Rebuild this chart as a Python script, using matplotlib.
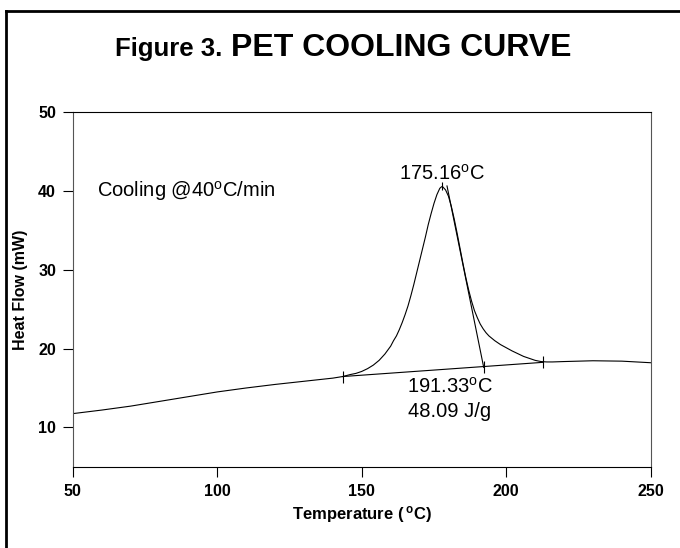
import numpy as np
import matplotlib.pyplot as plt
from matplotlib.lines import Line2D

# DSC cooling scan
temp = [50, 60, 70, 80, 90, 100, 110, 120, 130, 140, 143.4, 146, 148, 150, 152,
        154, 156, 158, 160, 161, 162, 163, 164, 165, 166, 167, 168, 169, 170, 171,
        172, 173, 174, 175, 176, 177, 177.6, 178, 179, 180, 181, 182, 183, 184, 185,
        186, 187, 188, 189, 190, 191, 192, 193, 194, 195, 196, 198, 200, 202, 204,
        206, 208, 210, 212, 214, 216, 220, 230, 240, 250]
heat_flow = [11.75, 12.2, 12.7, 13.3, 13.9, 14.5, 15.0, 15.45, 15.85, 16.25, 16.45,
             16.7, 16.85, 17.1, 17.45, 17.9, 18.5, 19.3, 20.3, 21.0, 21.6, 22.4, 23.3,
             24.3, 25.4, 26.7, 28.1, 29.6, 31.1, 32.6, 34.1, 35.7, 37.1, 38.4, 39.5,
             40.3, 40.5, 40.5, 40.1, 39.3, 38.0, 36.4, 34.6, 32.7, 30.8, 29.0, 27.4,
             26.0, 24.8, 23.9, 23.1, 22.5, 22.0, 21.6, 21.3, 21.0, 20.5, 20.1, 19.7,
             19.35, 19.0, 18.75, 18.5, 18.35, 18.3, 18.3, 18.35, 18.45, 18.4, 18.2]

# integration baseline and onset tangent
base_t = [143.4, 212.7]
base_hf = [16.45, 18.25]
tang_t = [179.5, 192.2]
tang_hf = [40.6, 17.6]
peak_t, peak_hf = 177.6, 40.6

plt.rcParams['font.family'] = ['Liberation Sans', 'DejaVu Sans']
plt.rcParams['mathtext.fontset'] = 'custom'
plt.rcParams['mathtext.rm'] = 'Liberation Sans'
plt.rcParams['mathtext.bf'] = 'Liberation Sans:bold'

fig = plt.figure(figsize=(6.8, 5.48), dpi=100)
ax = fig.add_axes([0.107, 0.148, 0.85, 0.648])

ax.plot(temp, heat_flow, color='black', lw=0.8)
ax.plot(base_t, base_hf, color='black', lw=0.8)
ax.plot(tang_t, tang_hf, color='black', lw=0.8)
ax.plot(base_t + [tang_t[1]], base_hf + [tang_hf[1]], ls='none', marker='|',
        ms=9, mew=0.8, color='black')
ax.plot([peak_t], [peak_hf], ls='none', marker='|', ms=6, mew=0.8, color='black')

ax.set_xlim(50, 250)
ax.set_ylim(5, 50)
ax.set_xticks([50, 100, 150, 200, 250])
ax.set_yticks([10, 20, 30, 40, 50])
ax.tick_params(direction='out', length=7, width=0.8, labelsize=11.5, pad=5)
for lab in ax.get_xticklabels() + ax.get_yticklabels():
    lab.set_fontweight('bold')
for s in ax.spines.values():
    s.set_linewidth(0.8)
ax.spines['right'].set_color('#555555')
ax.spines['left'].set_color('#555555')

ax.set_xlabel(r'Temperature ($\,\mathbf{^{o}}$C)', fontsize=12, fontweight='bold', labelpad=4)
ax.set_ylabel('Heat Flow (mW)', fontsize=11.5, fontweight='bold', labelpad=7)

deg = r'$^{\rm o}$'
ax.text(58.3, 40, 'Cooling @40' + deg + 'C/min', fontsize=14.5, va='center')
ax.text(177.7, 42.2, '175.16' + deg + 'C', fontsize=14.5, ha='center', va='center')
ax.text(180.4, 15.2, '191.33' + deg + 'C', fontsize=14.5, ha='center', va='center')
ax.text(180.4, 12.0, '48.09 J/g', fontsize=14.5, ha='center', va='center')

fig.text(222 / 680, 0.897, 'Figure 3.', fontsize=18.5, fontweight='bold',
         ha='right', va='baseline')
fig.text(231 / 680, 0.897, 'PET COOLING CURVE', fontsize=23, fontweight='bold',
         ha='left', va='baseline')

# outer frame (only left and top edges show in the crop)
fig.add_artist(Line2D([6 / 680, 6 / 680], [0, 1 - 11 / 548], color='black', lw=2))
fig.add_artist(Line2D([6 / 680, 1], [1 - 11 / 548, 1 - 11 / 548], color='black', lw=2))

fig.savefig('out.png', dpi=100)
